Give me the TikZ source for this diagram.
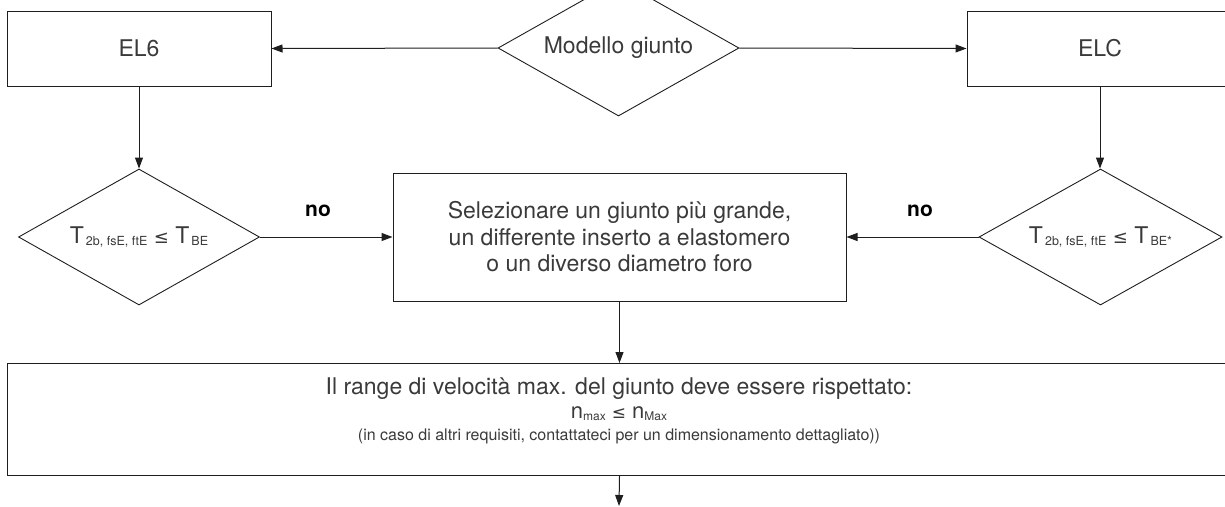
\documentclass[tikz,border=0pt]{standalone}
\usepackage{fontspec}
\setmainfont{TeX Gyre Heros}
\newfontfamily\symfont{DejaVu Sans}
\usetikzlibrary{shapes.geometric,arrows.meta}
\newcommand\lowsub[2][12.5]{\raisebox{-2pt}{\fontsize{#1}{#1}\selectfont #2}}
\newcommand\leqsym[1][18]{{\symfont\fontsize{#1}{#1}\selectfont ≤}}
\definecolor{ink}{HTML}{1E1E1E}
\definecolor{txt}{HTML}{3A3A3A}
\tikzset{
  base/.style={font=\fontsize{23}{26.5}\selectfont, text=txt, inner sep=0pt},
  boxnode/.style={base, draw=ink, line width=1pt, rectangle},
  decision/.style={base, draw=ink, line width=0.9pt, shape=diamond, aspect=2},
  conn/.style={draw=ink, line width=1pt, -{Triangle[length=11pt,width=8pt]}},
  nolabel/.style={base, font=\fontsize{21}{24}\selectfont\bfseries, text=black},
}
\begin{document}
\begin{tikzpicture}[x=1pt,y=-1pt]
\useasboundingbox (0,0) rectangle (1225,506);
\clip (0,0) rectangle (1225,506);
\node[boxnode, minimum width=264pt, minimum height=75pt] (el6) at (139,48.5) {EL6};
\node[decision, minimum width=241pt, minimum height=136pt] (model) at (618.5,48) {Modello giunto};
\node[boxnode, minimum width=266pt, minimum height=75pt] (elc) at (1100,48.5) {ELC};
\node[decision, minimum width=241pt, minimum height=136pt] (d1) at (139,237) {T\lowsub{\,2b, fsE, ftE} \leqsym{} T\lowsub{\,BE}};
\node[decision, minimum width=243pt, minimum height=136pt] (d2) at (1100.5,237) {T\lowsub{\,2b, fsE, ftE} \leqsym{} T\lowsub{\,BE*}};
\node[boxnode, minimum width=453pt, minimum height=128pt, align=center] (sel) at (619.5,237) {Selezionare un giunto più grande,\\un differente inserto a elastomero\\o un diverso diametro foro};
\node[boxnode, minimum width=1240pt, minimum height=112pt] (rng) at (627,419.5) {};
\node[base] (r1) at (619,389) {Il range di velocità max. del giunto deve essere rispettato:};
\node[base, font=\fontsize{22}{24}\selectfont] (r2) at (619,414) {n\lowsub[12]{max} \leqsym[17]{} n\lowsub[12]{Max}};
\node[base, font=\fontsize{16}{19}\selectfont] (r3) at (619,436) {(in caso di altri requisiti, contattateci per un dimensionamento dettagliato))};
\node[nolabel] (no1) at (318,211) {no};
\node[nolabel] (no2) at (920,211) {no};
\coordinate (out) at (619,506);
\draw[conn] (model.west) -- (el6.east);
\draw[conn] (model.east) -- (elc.west);
\draw[conn] (el6.south) -- (d1.north);
\draw[conn] (elc.south) -- (elc.south |- d2.north);
\draw[conn] (d1.east) -- (d1.east -| sel.west);
\draw[conn] (d2.west) -- (d2.west -| sel.east);
\draw[conn] (sel.south) -- (sel.south |- rng.north);
\draw[conn] (sel.south |- rng.south) -- (out);
\end{tikzpicture}
\end{document}
